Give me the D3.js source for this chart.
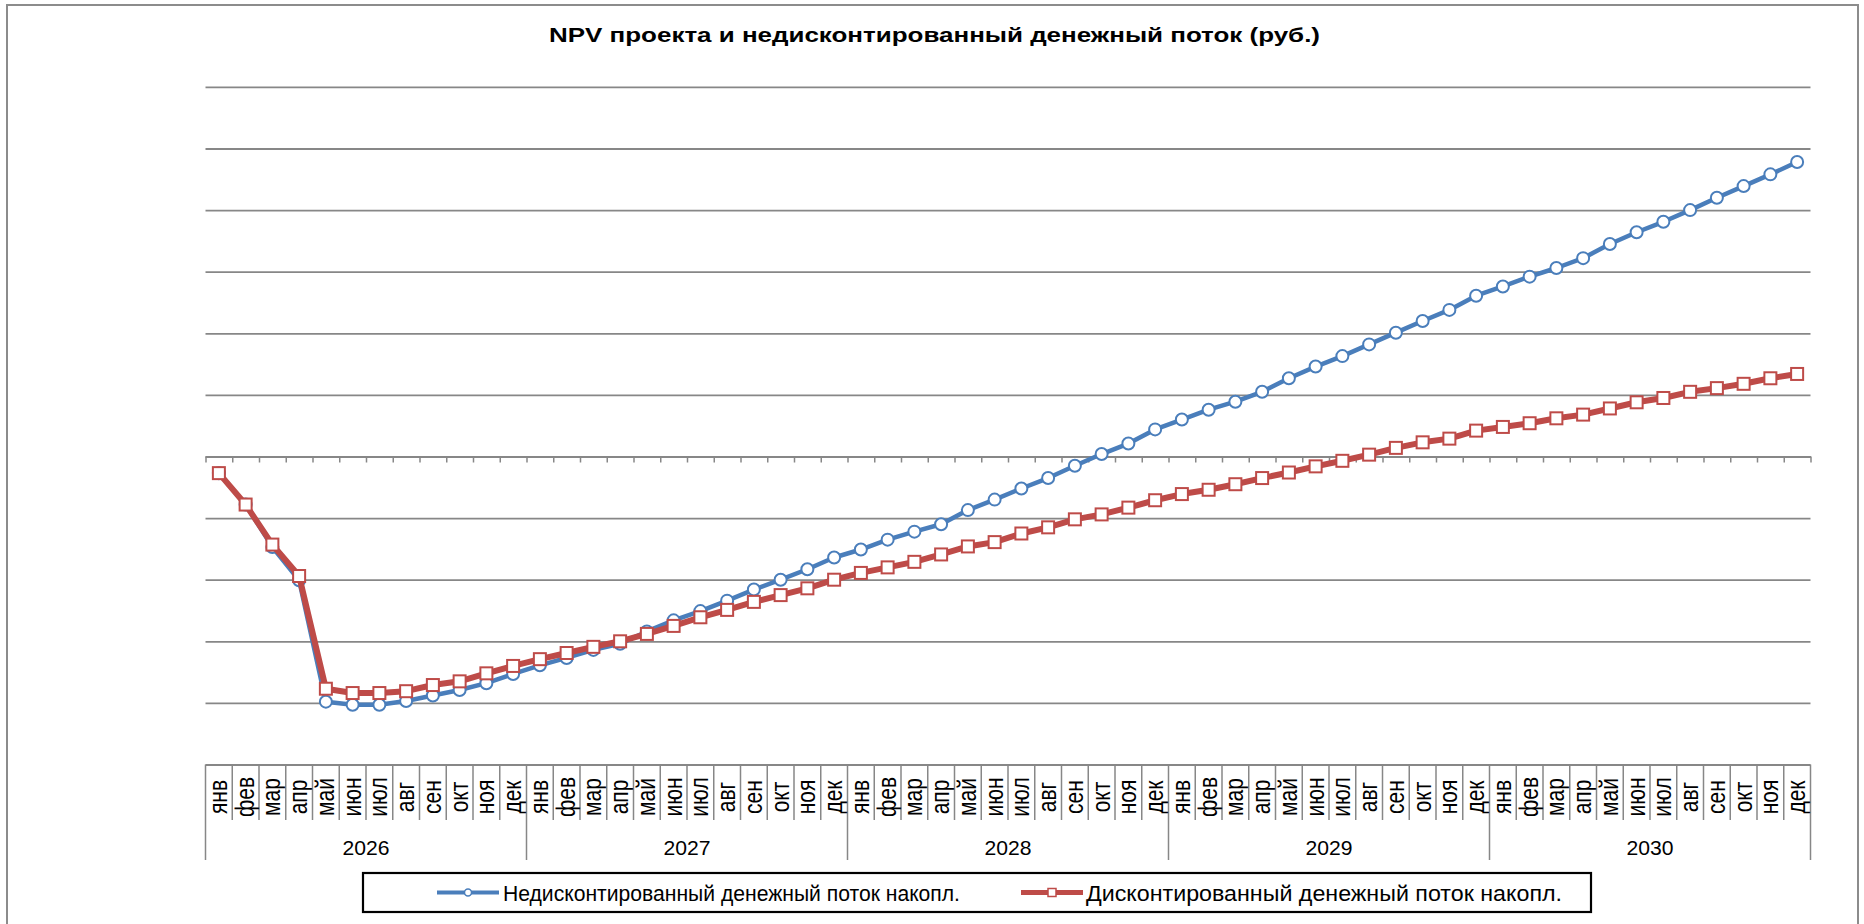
<!DOCTYPE html>
<html><head><meta charset="utf-8">
<script src="https://cdn.jsdelivr.net/npm/d3@7"></script>
<style>
body{margin:0;background:#fff}
svg{display:block}
text{font-family:"Liberation Sans",Arial,sans-serif;fill:#000}
</style>
</head><body>
<svg id="chart" width="1864" height="924"></svg>
<script>
// ---- data ----
const title = "NPV проекта и недисконтированный денежный поток (руб.)";
const months = ["янв","фев","мар","апр","май","июн","июл","авг","сен","окт","ноя","дек"];
const years = ["2026","2027","2028","2029","2030"];
const seriesNames = ["Недисконтированный денежный поток накопл.","Дисконтированный денежный поток накопл."];
const yTicks = [-5,-4,-3,-2,-1,0,1,2,3,4,5,6];
const undiscounted = [
  -0.27,-0.78,-1.47,-2.01,-3.98,-4.03,-4.03,-3.97,-3.88,-3.79,-3.68,-3.53,
  -3.39,-3.27,-3.14,-3.04,-2.84,-2.66,-2.51,-2.34,-2.16,-2.00,-1.83,-1.64,
  -1.51,-1.35,-1.22,-1.10,-0.87,-0.70,-0.52,-0.35,-0.15,0.04,0.21,0.44,
  0.60,0.76,0.89,1.05,1.27,1.46,1.63,1.82,2.01,2.20,2.38,2.61,
  2.76,2.92,3.06,3.22,3.45,3.64,3.81,4.00,4.20,4.39,4.58,4.78
];
const discounted = [
  -0.27,-0.78,-1.43,-1.94,-3.77,-3.84,-3.84,-3.81,-3.71,-3.65,-3.52,-3.40,
  -3.29,-3.19,-3.09,-3.00,-2.88,-2.75,-2.61,-2.49,-2.36,-2.25,-2.14,-2.00,
  -1.89,-1.80,-1.71,-1.59,-1.46,-1.39,-1.25,-1.15,-1.02,-0.94,-0.83,-0.71,
  -0.61,-0.54,-0.45,-0.35,-0.26,-0.16,-0.07,0.03,0.14,0.23,0.29,0.42,
  0.48,0.54,0.62,0.68,0.78,0.88,0.95,1.05,1.11,1.18,1.27,1.34
];
const categories = years.flatMap(yr => months.map(m => yr + " " + m));

// ---- layout ----
const svg = d3.select("#chart");
const L = 205.5, R = 1810.5;
const x = d3.scaleBand().domain(categories).range([L, R]).padding(0);
const xe = d3.scaleLinear().domain([0, categories.length]).range([L, R]);
const y = d3.scaleLinear().domain([-5, 6]).range([764.5, 86.9]);
const bw = x.bandwidth();
const gridCol = "#878787";
const blue = "#4A7EBB", red = "#BE4B48";

// outer border
svg.append("rect").attr("x", 7).attr("y", 5).attr("width", 1851).attr("height", 940)
  .attr("fill", "none").attr("stroke", "#8c8c8c").attr("stroke-width", 2);

// title
svg.append("text").attr("x", 934.5).attr("y", 42).attr("text-anchor", "middle")
  .attr("font-size", 21).attr("font-weight", "bold")
  .attr("textLength", 771).attr("lengthAdjust", "spacingAndGlyphs").text(title);

// gridlines
const grid = svg.append("g").attr("transform", `translate(${L},0)`)
  .call(d3.axisLeft(y).tickValues(yTicks).tickSize(-(R - L)).tickFormat(""));
grid.select(".domain").remove();
grid.selectAll("line").attr("stroke", gridCol).attr("stroke-width", 1.8);

// zero axis with tick marks
const ax = svg.append("g").attr("transform", `translate(0,${y(0)})`)
  .call(d3.axisBottom(xe).tickValues(d3.range(0, categories.length + 1)).tickSize(6).tickSizeOuter(0).tickFormat(""));
ax.select(".domain").attr("stroke", gridCol).attr("stroke-width", 1.8);
ax.selectAll("line").attr("stroke", gridCol).attr("stroke-width", 1.5);

// category table
const tableTop = y(-5);
const tbl = svg.append("g");
tbl.selectAll("line.sep").data(d3.range(0, categories.length + 1)).join("line")
  .attr("x1", i => xe(i)).attr("x2", i => xe(i))
  .attr("y1", tableTop).attr("y2", i => i % 12 === 0 ? 860 : 820)
  .attr("stroke", gridCol).attr("stroke-width", 1.5);
tbl.selectAll("text.m").data(categories).join("text")
  .attr("transform", (d) => `translate(${x(d) + bw / 2 + 8},797) rotate(-90) scale(1,1.2)`)
  .attr("text-anchor", "middle").attr("font-size", 21)
  .text(d => d.split(" ")[1]);
tbl.selectAll("text.y").data(years).join("text")
  .attr("x", (d, i) => xe(i * 12 + 6)).attr("y", 855)
  .attr("text-anchor", "middle").attr("font-size", 21)
  .attr("textLength", 47).attr("lengthAdjust", "spacingAndGlyphs")
  .text(d => d);

// series
const line = d3.line().x((d, i) => x(categories[i]) + bw / 2).y(d => y(d));
function drawSeries(data, color, width, shape) {
  const g = svg.append("g");
  g.append("path").datum(data).attr("d", line).attr("fill", "none")
    .attr("stroke", color).attr("stroke-width", width).attr("stroke-linejoin", "round");
  if (shape === "circle") {
    g.selectAll("circle").data(data).join("circle")
      .attr("cx", (d, i) => x(categories[i]) + bw / 2).attr("cy", d => y(d)).attr("r", 6)
      .attr("fill", "#fff").attr("stroke", color).attr("stroke-width", 2);
  } else {
    g.selectAll("rect").data(data).join("rect")
      .attr("x", (d, i) => x(categories[i]) + bw / 2 - 6).attr("y", d => y(d) - 6)
      .attr("width", 12).attr("height", 12)
      .attr("fill", "#fff").attr("stroke", color).attr("stroke-width", 2);
  }
}
drawSeries(undiscounted, blue, 4.5, "circle");
drawSeries(discounted, red, 6, "square");

// legend
const lg = svg.append("g");
lg.append("rect").attr("x", 363).attr("y", 873).attr("width", 1228).attr("height", 39)
  .attr("fill", "#fff").attr("stroke", "#000").attr("stroke-width", 2.2);
const ly = 892.5;
lg.append("line").attr("x1", 437).attr("x2", 499).attr("y1", ly).attr("y2", ly)
  .attr("stroke", blue).attr("stroke-width", 4);
lg.append("circle").attr("cx", 468).attr("cy", ly).attr("r", 3.5)
  .attr("fill", "#fff").attr("stroke", blue).attr("stroke-width", 1.5);
lg.append("text").attr("x", 503).attr("y", ly + 8).attr("font-size", 22)
  .attr("textLength", 457).attr("lengthAdjust", "spacingAndGlyphs").text(seriesNames[0]);
lg.append("line").attr("x1", 1021).attr("x2", 1083).attr("y1", ly).attr("y2", ly)
  .attr("stroke", red).attr("stroke-width", 5);
lg.append("rect").attr("x", 1048).attr("y", ly - 4).attr("width", 8).attr("height", 8)
  .attr("fill", "#fff").attr("stroke", red).attr("stroke-width", 1.5);
lg.append("text").attr("x", 1086).attr("y", ly + 8).attr("font-size", 22)
  .attr("textLength", 476).attr("lengthAdjust", "spacingAndGlyphs").text(seriesNames[1]);
</script>
</body></html>
